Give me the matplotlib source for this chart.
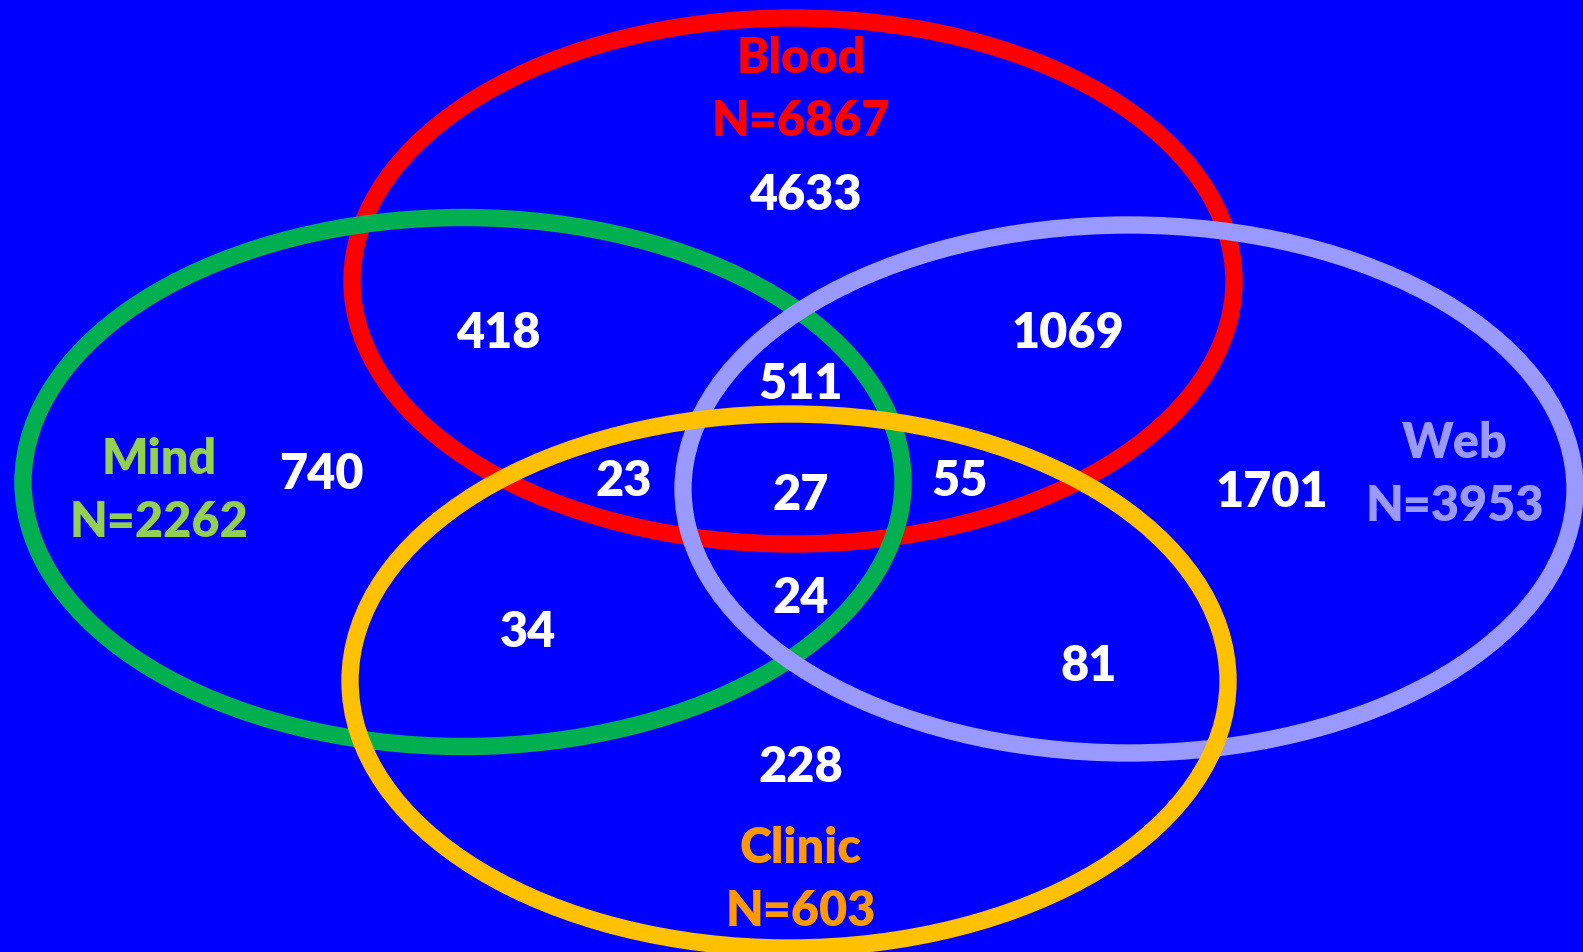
import matplotlib
matplotlib.use("Agg")
import matplotlib.pyplot as plt
from matplotlib.patches import Ellipse

# sets and their totals
set_names = ["Blood", "Mind", "Web", "Clinic"]
set_totals = [6867, 2262, 3953, 603]

# region counts (membership as a string of set initials)
region_keys = ["B", "BM", "BW", "BMW", "M", "BMC", "BMWC", "BWC", "W", "MC", "MWC", "WC", "C"]
region_counts = [4633, 418, 1069, 511, 740, 23, 27, 55, 1701, 34, 24, 81, 228]

# --- layout (pixel coordinates, y down) ---
W, H = 1583, 953
bg = "#0000FF"
ring_colors = {"Blood": "#FF0000", "Mind": "#00B050", "Web": "#9999FF", "Clinic": "#FFC000"}
label_colors = {"Blood": "#FF0000", "Mind": "#92D050", "Web": "#9999FF", "Clinic": "#FF9900"}
ellipses = {
    "Blood": (793, 282, 882, 526),
    "Mind": (463, 483, 880, 529),
    "Web": (1129, 490, 892, 528),
    "Clinic": (789, 682, 878, 534),
}
draw_order = ["Blood", "Mind", "Web", "Clinic"]
label_pos = {"Blood": (801, 90), "Mind": (159, 491), "Web": (1455, 475), "Clinic": (801, 880)}
region_pos = {
    "B": (805, 195), "BM": (498, 334), "BW": (1068, 334), "BMW": (801, 385),
    "M": (321, 475), "BMC": (624, 482), "BMWC": (801, 496), "BWC": (960, 482),
    "W": (1272, 493), "MC": (528, 633), "MWC": (801, 599), "WC": (1089, 667),
    "C": (801, 768),
}

plt.rcParams["font.family"] = ["Lato", "DejaVu Sans"]

fig = plt.figure(figsize=(W / 100, H / 100), dpi=100, facecolor=bg)
ax = fig.add_axes([0, 0, 1, 1])
ax.set_facecolor(bg)
ax.set_xlim(0, W)
ax.set_ylim(H, 0)
ax.axis("off")

for z, name in enumerate(draw_order):
    cx, cy, ew, eh = ellipses[name]
    ax.add_patch(Ellipse((cx, cy), ew, eh, fill=False, edgecolor=ring_colors[name],
                         linewidth=12.5, zorder=2 + z))

fs = 35
for name, total in zip(set_names, set_totals):
    x, y = label_pos[name]
    ax.text(x, y, f"{name}\nN={total}", color=label_colors[name], fontsize=fs,
            fontweight="heavy", ha="center", va="center", linespacing=1.5, zorder=10)

for key, count in zip(region_keys, region_counts):
    x, y = region_pos[key]
    ax.text(x, y, str(count), color="white", fontsize=fs, fontweight="heavy",
            ha="center", va="center", zorder=10)

fig.savefig("out.png", dpi=100, facecolor=bg)
